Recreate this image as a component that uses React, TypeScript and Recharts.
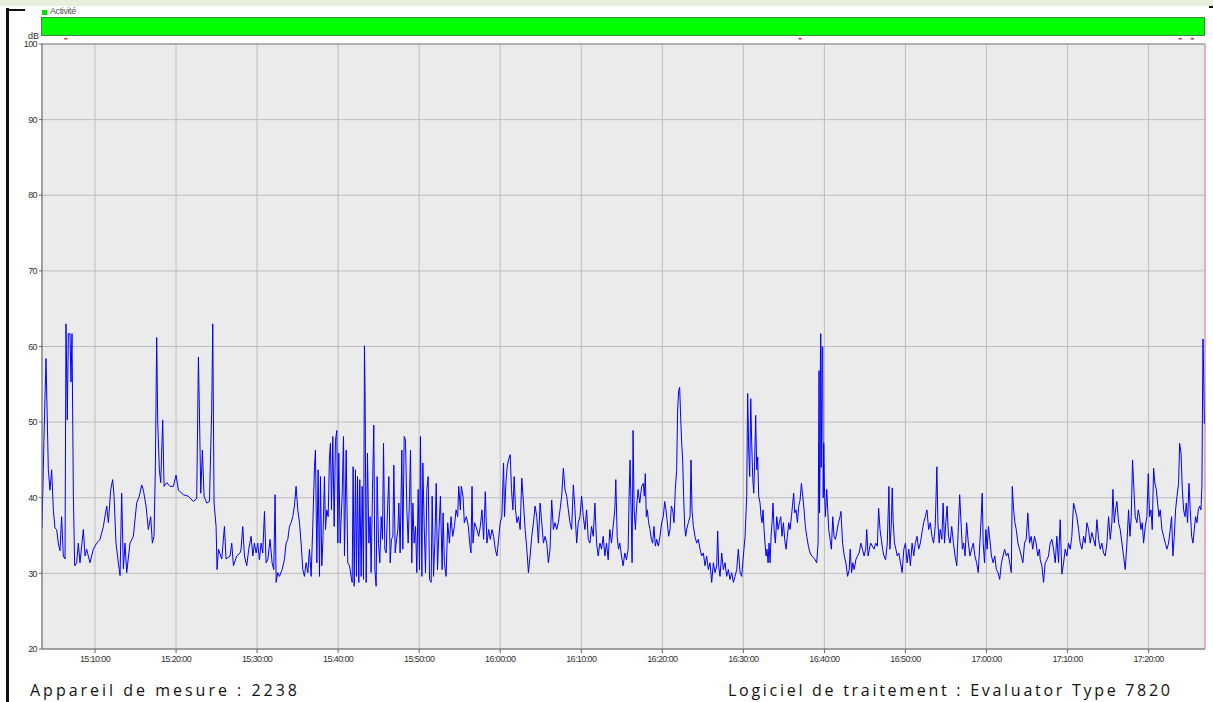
import { LineChart, Line, XAxis, YAxis, CartesianGrid, ReferenceLine, ReferenceDot } from 'recharts';

// sound level (dB) against minutes after 15:00:00
const seg1503: [number, number][] = [
  [3.46, 36], [3.7, 47.6], [3.95, 58.4], [4.12, 50], [4.24, 43.7], [4.44, 41], [4.65, 43.7], [4.86, 38.4],
  [5.06, 36], [5.27, 35.8], [5.47, 34], [5.68, 33], [5.88, 37.5], [6.09, 32.3], [6.3, 31.9], [6.42, 63],
  [6.58, 50.3], [6.71, 61.7], [6.91, 61.7], [7.04, 55.3], [7.16, 61.7], [7.33, 40.2], [7.49, 31], [7.74, 31.4],
  [7.94, 34], [8.15, 31.4], [8.56, 35.8], [8.77, 32.3], [8.97, 33.2], [9.38, 31.4], [9.79, 33.2], [10.21, 34],
  [10.62, 34.5], [11.03, 36.2], [11.44, 38.9], [11.65, 36.7], [11.93, 41], [12.18, 42.4], [12.35, 40.2],
  [12.59, 34], [12.88, 31.4], [13.09, 29.7], [13.29, 40.6], [13.5, 30.6], [13.7, 34], [13.91, 30.1],
  [14.32, 34], [14.73, 34.9], [15.14, 39.3], [15.47, 40.2], [15.76, 41.7], [15.97, 41], [16.3, 38.9],
  [16.58, 35.8], [16.87, 37.5], [17.08, 34], [17.28, 34.9], [17.45, 44.1], [17.61, 61.2], [17.74, 50],
  [17.94, 43.7], [18.11, 42], [18.35, 50.3], [18.52, 41.5], [18.85, 42], [19.26, 41.5], [19.67, 41.5],
  [20.0, 43], [20.29, 41], [20.91, 40.4], [21.52, 40.2], [22.14, 39.5], [22.55, 39.9], [22.76, 58.6],
  [22.88, 51.6], [23.05, 40.6], [23.25, 46.3], [23.46, 40.2], [23.79, 39.3], [24.12, 39.5], [24.4, 51.6],
  [24.53, 63], [24.69, 39.3], [24.94, 36.2], [25.06, 30.5], [25.23, 33.2], [25.64, 31.9], [25.97, 36.2],
  [26.17, 31.9], [26.67, 32.3], [26.87, 34], [27.08, 31], [27.49, 32.3], [27.9, 32.7],
];

const seg1528: [number, number][] = [
  [28.02, 33.2], [28.23, 36.2], [28.44, 32.3], [28.72, 31], [28.97, 33.2], [29.26, 34.9], [29.47, 32.3],
  [29.67, 34], [29.88, 32.7], [30.08, 34], [30.29, 31.8], [30.49, 34], [30.7, 32.7], [30.91, 38.2],
  [31.11, 31.4], [31.32, 31.8], [31.6, 34.5], [31.85, 31.4], [32.06, 30.5], [32.22, 40.4], [32.35, 28.8],
  [32.55, 30.1], [32.76, 29.6], [33.09, 30.5], [33.37, 31.8], [33.58, 34], [33.79, 34.5], [33.99, 36.2],
  [34.2, 36.7], [34.4, 37.5], [34.61, 38.9], [34.81, 41.5], [35.02, 38.4], [35.23, 36.7], [35.43, 34],
  [35.64, 30.5], [35.84, 29.6], [36.05, 31.4], [36.26, 30.1], [36.46, 33.2], [36.67, 29.6], [36.87, 36.2],
  [37.08, 44.1], [37.2, 46.3], [37.37, 31.4], [37.53, 43.7], [37.7, 29.6], [37.82, 42.8], [37.98, 31],
  [38.11, 34], [38.31, 42.8], [38.44, 35.8], [38.6, 38.4], [38.77, 37.5], [38.93, 45.4], [39.05, 47.2],
  [39.18, 38.4], [39.34, 48.1], [39.51, 36.2], [39.67, 47.6], [39.84, 48.9], [39.96, 34], [40.08, 45.9],
  [40.25, 34], [40.49, 40.2], [40.66, 48.1], [40.78, 32.3], [40.99, 46.3], [41.19, 31.4], [41.4, 31],
  [41.6, 29.6], [41.73, 28.8], [41.85, 44.1], [41.98, 28.3], [42.14, 43.7], [42.26, 29.6], [42.39, 42.8],
  [42.55, 28.8], [42.67, 42.4], [42.84, 29.6], [42.96, 41.5], [43.13, 29.2], [43.25, 60.1], [43.33, 52.9],
  [43.46, 28.8], [43.62, 45.9], [43.79, 34], [43.95, 37.5], [44.07, 30.1], [44.24, 41.1], [44.4, 49.6],
  [44.53, 30.5], [44.69, 28.3], [44.81, 42.8], [44.98, 34], [45.14, 31.4], [45.31, 37.5], [45.47, 34.5],
  [45.6, 47.2], [45.76, 33.2], [45.93, 32.7], [46.09, 38.4], [46.26, 42.8], [46.42, 31.4], [46.58, 34.5],
  [46.75, 34.9], [46.87, 44.3], [47.04, 32.7], [47.16, 34], [47.37, 35.8], [47.49, 39.3], [47.65, 32.7],
  [47.86, 46.3], [47.98, 33.2], [48.15, 48.1], [48.31, 47.6], [48.48, 38.4], [48.64, 34], [48.81, 40.2],
  [48.93, 46.3], [49.09, 31.4], [49.22, 39.3], [49.38, 34], [49.55, 36.2], [49.71, 30.1], [49.88, 41.1],
  [50.04, 30.5], [50.16, 48.1], [50.33, 29.6], [50.45, 44.6], [50.62, 36.2], [50.78, 30.1], [50.95, 41.1],
  [51.11, 42.8], [51.28, 29.2], [51.48, 28.8], [51.6, 40.2], [51.77, 29.6], [51.93, 34], [52.1, 41.9],
  [52.26, 30.5], [52.51, 37.5],
];

const seg1552: [number, number][] = [
  [52.62, 40.2], [52.83, 30.5], [52.95, 38], [53.11, 31.4], [53.32, 29.6], [53.52, 36.7], [53.73, 34],
  [53.93, 37.5], [54.14, 34.9], [54.34, 36.2], [54.55, 38.4], [54.75, 37.5], [54.88, 41.5], [55.08, 38.4],
  [55.2, 41.5], [55.41, 40.2], [55.57, 36.7], [55.82, 37.5], [56.07, 36.2], [56.23, 34], [56.39, 32.7],
  [56.52, 41.5], [56.64, 34], [56.84, 36.7], [57.13, 35.8], [57.34, 34.9], [57.54, 36.2], [57.75, 38.4],
  [57.95, 34.5], [58.16, 40.8], [58.36, 34], [58.57, 35.8], [58.77, 34.5], [58.98, 35.8], [59.18, 34.9],
  [59.39, 33.2], [59.59, 32.3], [59.8, 34.5], [60.0, 36.7], [60.2, 37.5], [60.41, 44.6], [60.53, 37.5],
  [60.7, 41.9], [60.86, 44.1], [61.02, 45], [61.23, 45.7], [61.39, 41.1], [61.56, 38.4], [61.72, 42.8],
  [61.89, 38.4], [62.05, 36.7], [62.25, 37.5], [62.46, 35.8], [62.66, 42.6], [62.87, 39.3], [63.07, 35.8],
  [63.28, 33.2], [63.48, 30.1], [63.69, 32.3], [63.89, 34.9], [64.1, 36.7], [64.3, 38.9], [64.51, 37.5],
  [64.71, 34], [64.92, 39.3], [65.12, 36.7], [65.33, 34], [65.53, 34.9], [65.74, 34], [65.94, 31.4],
  [66.15, 33.2], [66.35, 39.7], [66.56, 35.8], [66.76, 36.7], [66.97, 35.8], [67.17, 36.7], [67.38, 38.4],
  [67.58, 40.2], [67.79, 43.9], [67.99, 41.1], [68.2, 40.2], [68.4, 38.4], [68.61, 36.7], [68.81, 35.8],
  [69.02, 41.7], [69.22, 38.4], [69.43, 34], [69.63, 36.7], [69.84, 37.5], [70.04, 40.2], [70.25, 37.5],
  [70.45, 35.8], [70.66, 38.4], [70.86, 34.5], [71.07, 34], [71.27, 36.2], [71.48, 34.9], [71.68, 39.3],
  [71.89, 34], [72.09, 32.3], [72.3, 34], [72.5, 33.2], [72.7, 34.9], [72.91, 32.3], [73.11, 34],
  [73.32, 31.8], [73.52, 35.8], [73.73, 34], [73.93, 36.2], [74.14, 38.4], [74.26, 42.4], [74.43, 34.9],
  [74.59, 33.2], [74.75, 34], [74.96, 32.3], [75.16, 31], [75.37, 32.7], [75.57, 31.8], [75.78, 33.2],
  [75.9, 40.2], [76.02, 45], [76.15, 38.4], [76.27, 31.4], [76.39, 48.9], [76.52, 38.4], [76.68, 35.8],
  [76.8, 38.4], [77.01, 41.1], [77.21, 39.3],
];

const seg1617: [number, number][] = [
  [77.45, 41.5], [77.65, 41.9], [77.78, 40.2], [77.9, 43.2], [78.02, 37.5], [78.15, 38.4], [78.31, 36.7],
  [78.48, 35.8], [78.64, 34.5], [78.81, 34], [78.97, 36.2], [79.14, 33.6], [79.3, 34.5], [79.51, 33.6],
  [79.71, 34.9], [79.92, 36.7], [80.12, 37.5], [80.29, 39.5], [80.45, 38.4], [80.62, 36.7], [80.78, 34.9],
  [80.95, 35.8], [81.11, 38.9], [81.28, 38.4], [81.44, 36.7], [81.6, 41.1], [81.77, 43.7], [81.89, 51.6],
  [82.02, 54.2], [82.14, 54.6], [82.26, 50.7], [82.39, 47.2], [82.51, 45], [82.63, 40.2], [82.76, 36.2],
  [82.88, 34.9], [83.0, 35.8], [83.21, 36.7], [83.42, 37.5], [83.54, 45], [83.66, 38.4], [83.83, 36.2],
  [84.03, 34.9], [84.24, 34], [84.44, 34.5], [84.65, 33.2], [84.86, 32.3], [85.06, 32.7], [85.27, 31],
  [85.47, 32.3], [85.68, 30.5], [85.88, 31.4], [86.09, 28.8], [86.3, 31.4], [86.5, 30.1], [86.71, 31],
  [86.83, 35.6], [86.95, 31], [87.12, 29.6], [87.33, 32.7], [87.53, 30.5], [87.74, 31.4], [87.94, 29.6],
  [88.15, 30.5], [88.35, 29.2], [88.56, 30.1], [88.77, 28.8], [88.97, 29.6], [89.18, 30.5], [89.38, 33.2],
  [89.59, 30.1], [89.79, 29.6], [90.0, 32.3], [90.21, 34.9], [90.41, 40.2], [90.53, 53.8], [90.66, 46.3],
  [90.78, 42.8], [90.91, 53.1], [91.03, 47.2], [91.15, 42.8], [91.28, 40.6], [91.4, 45], [91.52, 50.9],
  [91.65, 43.7], [91.77, 45.4], [91.89, 40.2], [92.06, 39.3], [92.18, 37.5], [92.3, 36.7], [92.43, 38.4],
  [92.55, 35.8], [92.67, 34], [92.8, 32.3], [92.92, 33.2], [93.05, 31.4], [93.17, 34], [93.29, 31.4],
  [93.42, 34.9], [93.54, 36.7], [93.66, 39.3], [93.79, 35.8], [93.95, 34], [94.12, 37.5], [94.28, 35.8],
  [94.44, 36.7], [94.61, 37.5], [94.77, 34.9], [94.94, 36.7], [95.1, 34.5], [95.27, 33.2], [95.43, 34.9],
  [95.6, 36.7], [95.76, 35.8], [95.93, 37.5], [96.09, 39.3], [96.21, 40.6], [96.34, 38], [96.5, 38.4],
  [96.67, 36.7], [96.83, 38.9], [97.0, 39.7], [97.16, 41.9], [97.33, 40.2], [97.49, 38.4], [97.65, 36.2],
  [97.82, 34.9], [98.02, 33.6], [98.23, 32.7], [98.44, 32.3], [98.64, 32.1], [98.85, 31.8], [99.05, 31.4],
  [99.22, 34], [99.34, 56.8], [99.4, 38], [99.47, 45], [99.5, 58], [99.55, 61.7], [99.6, 44], [99.67, 51.6],
  [99.72, 60], [99.79, 59.9], [99.85, 40], [99.92, 47.2], [100.0, 41.5], [100.12, 37.5], [100.29, 41.1],
  [100.41, 38.4], [100.53, 35.8], [100.7, 34.5], [100.86, 33.2], [101.03, 37.5], [101.19, 34.9],
  [101.36, 34.5], [101.52, 35.4], [101.73, 36.7], [101.93, 37.5],
];

const seg1642: [number, number][] = [
  [102.04, 38.2], [102.24, 34], [102.45, 32.3], [102.65, 31.4], [102.86, 29.6], [103.06, 30.5],
  [103.18, 33.2], [103.35, 30.1], [103.51, 31.4], [103.67, 30.5], [103.88, 31.8], [104.08, 32.3],
  [104.29, 32.7], [104.49, 34], [104.69, 33.2], [104.9, 32.3], [105.1, 33.2], [105.22, 35.8], [105.39, 32.3],
  [105.55, 33.2], [105.71, 34], [105.92, 33.6], [106.12, 33.2], [106.33, 34], [106.53, 33.6], [106.69, 38.6],
  [106.86, 35.8], [107.02, 34.5], [107.18, 33.2], [107.35, 32.3], [107.55, 31.8], [107.76, 34], [107.96, 41.5],
  [108.08, 33.2], [108.24, 36.2], [108.37, 41.3], [108.49, 36.7], [108.65, 34], [108.82, 33.2], [108.98, 32.3],
  [109.18, 32.7], [109.39, 31.4], [109.59, 30.1], [109.8, 33.2], [110.0, 34], [110.2, 31.4], [110.41, 33.2],
  [110.61, 31], [110.82, 34], [111.02, 32.3], [111.22, 34], [111.43, 34.9], [111.63, 33.2], [111.84, 34],
  [112.04, 35.4], [112.24, 36.7], [112.45, 37.5], [112.65, 38.4], [112.86, 35.8], [113.06, 36.7],
  [113.27, 34.9], [113.47, 34], [113.67, 36.2], [113.88, 44.1], [114.0, 36.7], [114.16, 34], [114.29, 35.8],
  [114.49, 34.5], [114.65, 39.3], [114.82, 34], [114.98, 36.7], [115.14, 38.9], [115.31, 34.9], [115.51, 34],
  [115.71, 36.2], [115.92, 34], [116.12, 32.3], [116.33, 31], [116.53, 36.2], [116.69, 40.4], [116.86, 36.7],
  [117.02, 33.2], [117.18, 34], [117.35, 32.3], [117.55, 36.7], [117.76, 34], [117.96, 32.3], [118.16, 33.2],
  [118.37, 34], [118.57, 32.3], [118.78, 31.4], [118.98, 30.1], [119.18, 34], [119.35, 37.5], [119.47, 40.6],
  [119.59, 34], [119.76, 31.4], [119.92, 35.8], [120.08, 33.2], [120.24, 36.2], [120.41, 34.5], [120.61, 32.3],
  [120.82, 31.4], [121.02, 32.3], [121.22, 30.5], [121.43, 30.1], [121.63, 29.2], [121.84, 31.4],
  [122.04, 32.3], [122.24, 33.2], [122.45, 32.3], [122.65, 32.7], [122.86, 31.4], [123.06, 30.1],
  [123.18, 41.5], [123.35, 38.4], [123.51, 36.7], [123.67, 35.8], [123.88, 34], [124.08, 33.2], [124.29, 32.3],
  [124.49, 31.4], [124.69, 34], [124.9, 34.5], [125.1, 38], [125.31, 34], [125.51, 34.9], [125.71, 33.2],
  [125.92, 34.9], [126.12, 34], [126.33, 32.3], [126.53, 33.2],
];

const seg1706: [number, number][] = [
  [126.63, 31.8], [126.83, 31], [127.04, 28.8], [127.24, 31.4], [127.45, 31.8], [127.65, 32.3], [127.86, 34],
  [128.07, 34.5], [128.27, 33.2], [128.48, 31.4], [128.68, 34.9], [128.89, 31.4], [129.09, 37.1], [129.3, 29.9],
  [129.51, 31.4], [129.71, 33.2], [129.92, 32.3], [130.12, 34], [130.33, 33.2], [130.53, 34.9], [130.74, 39.3],
  [130.95, 38.4], [131.15, 37.5], [131.36, 35.8], [131.56, 34], [131.77, 33.2], [131.98, 34.9], [132.18, 34],
  [132.39, 36.7], [132.59, 35.8], [132.8, 34], [133.0, 35.4], [133.21, 34.5], [133.42, 33.6], [133.62, 37.1],
  [133.83, 34.5], [134.03, 33.2], [134.24, 34], [134.44, 32.7], [134.65, 32.3], [134.86, 34], [135.06, 37.5],
  [135.27, 34.5], [135.47, 36.7], [135.6, 41.1], [135.76, 36.7], [135.93, 38.4], [136.09, 39.5], [136.3, 36.7],
  [136.5, 35.8], [136.71, 34], [136.91, 32.3], [137.12, 30.5], [137.33, 34], [137.53, 38.4], [137.7, 34.9],
  [137.86, 37.5], [138.02, 45], [138.19, 41.1], [138.35, 37.5], [138.56, 36.7], [138.72, 38.4], [138.89, 37.5],
  [139.05, 35.8], [139.22, 36.7], [139.38, 34], [139.59, 36.2], [139.79, 37.5], [139.96, 43.2], [140.12, 37.5],
  [140.29, 38.4], [140.45, 35.8], [140.62, 43.9], [140.78, 41.9], [140.95, 41.1], [141.11, 39.3], [141.28, 37.5],
  [141.44, 38.4], [141.65, 35.8], [141.85, 34.9], [142.06, 34], [142.26, 33.2], [142.47, 34], [142.67, 35.8],
  [142.84, 37.5], [143.0, 32.3], [143.17, 34.9], [143.33, 38.4], [143.5, 40.2], [143.7, 41.9], [143.83, 47.2],
  [144.0, 45.9], [144.16, 41.1], [144.32, 38.4], [144.49, 37.5], [144.65, 39.3], [144.81, 36.7], [144.98, 41.9],
  [145.14, 38.4], [145.31, 34.9], [145.47, 34], [145.64, 35.8], [145.8, 37.5], [145.97, 36.7], [146.13, 38.4],
  [146.3, 38.9], [146.46, 38.4], [146.58, 41.5], [146.71, 61], [146.79, 56.4], [146.88, 49.8],
];

const timeTicks = [10, 20, 30, 40, 50, 60, 70, 80, 90, 100, 110, 120, 130, 140];
const dbTicks = [20, 30, 40, 50, 60, 70, 80, 90, 100];
const eventMarks = [6.4, 97.0, 143.9, 145.4];
const xMin = 3.46;
const xMax = 146.96;

const data = [...seg1503, ...seg1528, ...seg1552, ...seg1617, ...seg1642, ...seg1706].map(([t, v]) => ({ t, v }));

const fmtTime = (m: number) => {
  const total = 15 * 60 + m;
  const h = Math.floor(total / 60);
  const mm = total % 60;
  return `${h}:${String(mm).padStart(2, '0')}:00`;
};

const tickStyle = { fontSize: 9, fill: '#333', fontFamily: 'Liberation Sans, Arial, sans-serif', letterSpacing: -0.6 };

const RedMark = (p: any) => <rect x={p.cx - 1.5} y={p.cy - 6} width={3} height={1.5} fill="#e02020" />;

export default function App() {
  return (
    <div style={{ position: 'absolute', left: 0, top: 0, width: 1213, height: 702, background: '#fff', overflow: 'hidden', fontFamily: 'Liberation Sans, Arial, sans-serif' }}>
      <div style={{ position: 'absolute', left: 0, top: 0, width: 1213, height: 6, background: '#e9efdd' }} />
      <div style={{ position: 'absolute', left: 6, top: 8, width: 3, height: 694, background: '#111' }} />
      <div style={{ position: 'absolute', left: 6, top: 9, width: 19, height: 2, background: '#111' }} />
      <div style={{ position: 'absolute', left: 1209, top: 6, width: 4, height: 2, background: '#111' }} />

      <div style={{ position: 'absolute', left: 42, top: 10, width: 5, height: 5, background: '#00e000' }} />
      <div style={{ position: 'absolute', left: 50, top: 6, fontSize: 9, color: '#555', letterSpacing: -0.4 }}>Activité</div>
      <div style={{ position: 'absolute', left: 41, top: 17, width: 1162, height: 17, background: '#00ff00', border: '1px solid #3d8c3d' }} />
      <div style={{ position: 'absolute', left: 28, top: 31, fontSize: 9, color: '#333' }}>dB</div>

      <LineChart width={1213} height={702} data={data} margin={{ top: 44, right: 8, bottom: 23, left: 0 }}>
        <CartesianGrid stroke="#bdbdbd" fill="#ebebeb" />
        <XAxis
          dataKey="t"
          type="number"
          domain={[xMin, xMax]}
          ticks={timeTicks}
          tickFormatter={fmtTime}
          allowDataOverflow
          height={30}
          tick={tickStyle}
          tickSize={4}
          tickMargin={3}
          axisLine={{ stroke: '#666' }}
          tickLine={{ stroke: '#666' }}
        />
        <YAxis
          type="number"
          domain={[20, 100]}
          ticks={dbTicks}
          width={42}
          tick={tickStyle}
          tickSize={3}
          tickMargin={2}
          axisLine={{ stroke: '#666' }}
          tickLine={{ stroke: '#666' }}
        />
        <ReferenceLine y={100} stroke="#8a8a8a" />
        <ReferenceLine x={xMax} stroke="#f08a8a" />
        {eventMarks.map(m => (
          <ReferenceDot key={m} x={m} y={100} r={1} ifOverflow="visible" shape={RedMark} />
        ))}
        <Line
          type="linear"
          dataKey="v"
          stroke="#0000ff"
          strokeWidth={1}
          dot={false}
          isAnimationActive={false}
        />
      </LineChart>

      <svg style={{ position: 'absolute', left: 0, top: 0 }} width={1213} height={702}>
        <text x={30} y={696} fontSize={16} fontFamily="Open Sans, sans-serif" fill="#111" textLength={267} lengthAdjust="spacing">
          Appareil de mesure : 2238
        </text>
        <text x={728} y={696} fontSize={16} fontFamily="Open Sans, sans-serif" fill="#111" textLength={442} lengthAdjust="spacing">
          Logiciel de traitement : Evaluator Type 7820
        </text>
      </svg>
    </div>
  );
}
